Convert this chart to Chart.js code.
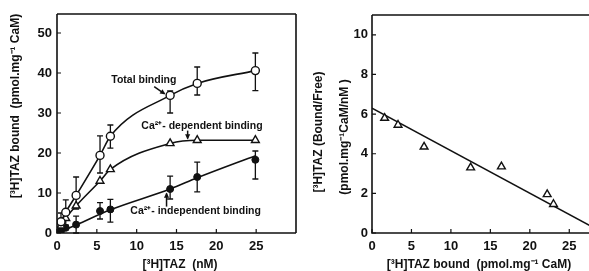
<!DOCTYPE html>
<html>
<head>
<meta charset="utf-8">
<script src="https://cdn.jsdelivr.net/npm/chart.js@4.4.0/dist/chart.umd.min.js"></script>
<style>
  body { margin: 0; background: #fff; }
  #wrap { position: relative; width: 589px; height: 271px; }
  .pane { position: absolute; top: 0; height: 271px; }
</style>
</head>
<body>
<div id="wrap">
  <div class="pane" style="left:0;width:300px"><canvas id="left"></canvas></div>
  <div class="pane" style="left:300px;width:289px"><canvas id="right"></canvas></div>
</div>
<script>
// left panel: binding vs free [3H]TAZ
const tazNM = [0.5, 1.1, 2.4, 5.4, 6.7, 14.2, 17.6, 24.9];
const totalBound = [2.8, 5.2, 9.4, 19.4, 24.2, 34.4, 37.4, 40.6];
const totalLow = [1, 2, 6, 15, 21.2, 30, 34.5, 35.6];
const totalHigh = [5, 8.3, 14, 24.3, 27, 35.5, 41.5, 45];
const caDepBound = [1.8, 3.7, 6.8, 13, 15.9, 22.4, 23.2, 23.2];
const caIndepBound = [0.5, 1.3, 2.1, 5.5, 5.9, 11, 14, 18.3];
const caIndepLow = [null, null, 0, 3.5, 2.7, 8.5, 10.3, 13.5];
const caIndepHigh = [null, null, 4.2, 7.6, 8.4, 14.2, 17.7, 20.5];
// fitted curve for Ca-independent binding
const indepCurveX = [0, 2.4, 6.7, 14.2, 17.6, 25];
const indepCurveY = [0, 2, 5.8, 11, 13.8, 19.4];

// right panel: Scatchard plot
const scatBound = [1.6, 3.3, 6.6, 12.5, 16.4, 22.2, 23.0];
const scatRatio = [5.8, 5.45, 4.35, 3.3, 3.35, 1.95, 1.45];
const fitX = [0, 28];
const fitY = [6.3, 0.29];

const leftTicksX = [0, 5, 10, 15, 20, 25];
const leftTicksY = [0, 10, 20, 30, 40, 50];
const rightTicksX = [0, 5, 10, 15, 20, 25];
const rightTicksY = [0, 2, 4, 6, 8, 10];

const ink = '#111';
const fontFam = '"Liberation Sans", Arial, sans-serif';

const pts = (xs, ys) => xs.map((x, i) => ({ x: x, y: ys[i] }));
const withOrigin = ys => [0].concat(ys);

const overlay = {
  id: 'overlay',
  beforeDatasetsDraw(chart, args, opts) {
    const ctx = chart.ctx, sx = chart.scales.x, sy = chart.scales.y;
    ctx.save();
    ctx.strokeStyle = ink;
    ctx.lineWidth = 1.3;
    (opts.errors || []).forEach(e => {
      e.x.forEach((xv, i) => {
        if (e.lo[i] == null) return;
        const x = sx.getPixelForValue(xv);
        const y1 = sy.getPixelForValue(e.lo[i]);
        const y2 = sy.getPixelForValue(e.hi[i]);
        ctx.beginPath();
        ctx.moveTo(x, y1); ctx.lineTo(x, y2);
        ctx.moveTo(x - 3, y1); ctx.lineTo(x + 3, y1);
        ctx.moveTo(x - 3, y2); ctx.lineTo(x + 3, y2);
        ctx.stroke();
      });
    });
    ctx.restore();
  },
  afterDraw(chart, args, opts) {
    const ctx = chart.ctx, a = chart.chartArea;
    const sx = chart.scales.x, sy = chart.scales.y;
    ctx.save();
    ctx.strokeStyle = ink;
    ctx.lineWidth = 1.6;
    ctx.beginPath();
    ctx.moveTo(a.left, a.top); ctx.lineTo(a.left, a.bottom); ctx.lineTo(a.right, a.bottom);
    if (opts.fullBox) {
      ctx.moveTo(a.right, a.bottom); ctx.lineTo(a.right, a.top);
    }
    ctx.moveTo(a.left, a.top); ctx.lineTo(a.right, a.top);
    ctx.stroke();

    // inward tick marks
    ctx.lineWidth = 1.2;
    ctx.beginPath();
    opts.ticksX.forEach(v => {
      const x = sx.getPixelForValue(v);
      ctx.moveTo(x, a.bottom); ctx.lineTo(x, a.bottom - 4);
    });
    opts.ticksY.forEach(v => {
      const y = sy.getPixelForValue(v);
      ctx.moveTo(a.left, y); ctx.lineTo(a.left + 4, y);
    });
    ctx.stroke();

    // axis titles
    ctx.fillStyle = ink;
    ctx.textAlign = 'center';
    ctx.textBaseline = 'middle';
    ctx.font = 'bold 12px ' + fontFam;
    ctx.fillText(opts.xTitle.text, opts.xTitle.x, opts.xTitle.y);
    opts.yTitle.forEach(t => {
      ctx.save();
      ctx.translate(t.x, t.y);
      ctx.rotate(-Math.PI / 2);
      ctx.fillText(t.text, 0, 0);
      ctx.restore();
    });

    // annotations
    ctx.font = 'bold 10.5px ' + fontFam;
    (opts.notes || []).forEach(n => {
      ctx.fillText(n.text, sx.getPixelForValue(n.x), sy.getPixelForValue(n.y));
    });
    ctx.lineWidth = 1.5;
    (opts.arrows || []).forEach(r => {
      const x1 = sx.getPixelForValue(r.from[0]), y1 = sy.getPixelForValue(r.from[1]);
      const x2 = sx.getPixelForValue(r.to[0]), y2 = sy.getPixelForValue(r.to[1]);
      const ang = Math.atan2(y2 - y1, x2 - x1);
      ctx.beginPath();
      ctx.moveTo(x1, y1); ctx.lineTo(x2, y2);
      ctx.stroke();
      ctx.beginPath();
      ctx.moveTo(x2 + Math.cos(ang) * 1, y2 + Math.sin(ang) * 1);
      ctx.lineTo(x2 - Math.cos(ang - 0.55) * 5, y2 - Math.sin(ang - 0.55) * 5);
      ctx.lineTo(x2 - Math.cos(ang + 0.55) * 5, y2 - Math.sin(ang + 0.55) * 5);
      ctx.closePath();
      ctx.fill();
    });
    ctx.restore();
  }
};

const tickFont = { family: fontFam, size: 13, weight: 'bold' };

function axis(max, step, padding, labelMax) {
  return {
    type: 'linear', min: 0, max: max,
    grid: { display: false, drawTicks: false },
    border: { display: false },
    ticks: {
      stepSize: step, includeBounds: false, color: ink, font: tickFont, padding: padding,
      callback: v => (v <= labelMax ? v : '')
    }
  };
}

const noPad = s => { s.paddingLeft = 0; s.paddingRight = 0; s.paddingTop = 0; s.paddingBottom = 0; };

const leftX = axis(30, 5, 6, 25);
leftX.afterFit = s => { s.height = 38; noPad(s); };
const leftY = axis(54.75, 10, 5, 50);
leftY.afterFit = s => { s.width = 57; noPad(s); };

new Chart(document.getElementById('left'), {
  type: 'scatter',
  data: {
    datasets: [
      { data: pts(tazNM, totalBound), pointStyle: 'circle', pointRadius: 4, backgroundColor: '#fff', borderColor: ink, borderWidth: 1.4 },
      { data: pts(tazNM, caDepBound), pointStyle: 'triangle', pointRadius: 4.5, backgroundColor: '#fff', borderColor: ink, borderWidth: 1.4 },
      { data: pts(tazNM, caIndepBound), pointStyle: 'circle', pointRadius: 3.5, backgroundColor: ink, borderColor: ink, borderWidth: 1 },
      { data: pts(withOrigin(tazNM), withOrigin(totalBound)), showLine: true, pointRadius: 0, borderColor: ink, borderWidth: 1.6, cubicInterpolationMode: 'monotone' },
      { data: pts(withOrigin(tazNM), withOrigin(caDepBound)), showLine: true, pointRadius: 0, borderColor: ink, borderWidth: 1.6, cubicInterpolationMode: 'monotone' },
      { data: pts(indepCurveX, indepCurveY), showLine: true, pointRadius: 0, borderColor: ink, borderWidth: 1.6, cubicInterpolationMode: 'monotone' }
    ]
  },
  options: {
    responsive: true, maintainAspectRatio: false, animation: false,
    layout: { autoPadding: false, padding: { left: 0, right: 4, top: 14, bottom: 0 } },
    scales: { x: leftX, y: leftY },
    plugins: {
      legend: { display: false }, tooltip: { enabled: false },
      overlay: {
        fullBox: true,
        ticksX: leftTicksX, ticksY: leftTicksY,
        errors: [
          { x: tazNM, lo: totalLow, hi: totalHigh },
          { x: tazNM, lo: caIndepLow, hi: caIndepHigh }
        ],
        xTitle: { text: '[³H]TAZ  (nM)', x: 180, y: 265 },
        yTitle: [{ text: '[³H]TAZ bound  (pmol.mg⁻¹ CaM)', x: 16, y: 106 }],
        notes: [
          { text: 'Total binding', x: 10.9, y: 38.3 },
          { text: 'Ca²⁺- dependent binding', x: 18.2, y: 26.8 },
          { text: 'Ca²⁺- independent binding', x: 17.4, y: 5.5 }
        ],
        arrows: [
          { from: [12.2, 36.6], to: [13.5, 34.8] },
          { from: [16.4, 25.6], to: [16.4, 23.6] },
          { from: [13.75, 6.6], to: [13.75, 9.9] }
        ]
      }
    }
  },
  plugins: [overlay]
});

const rightX = axis(27.5, 5, 6, 25);
rightX.afterFit = s => { s.height = 38; noPad(s); };
const rightY = axis(11, 2, 4, 10);
rightY.afterFit = s => { s.width = 72; noPad(s); };

new Chart(document.getElementById('right'), {
  type: 'scatter',
  data: {
    datasets: [
      { data: pts(scatBound, scatRatio), pointStyle: 'triangle', pointRadius: 4.5, backgroundColor: '#fff', borderColor: ink, borderWidth: 1.4 },
      { data: pts(fitX, fitY), showLine: true, pointRadius: 0, borderColor: ink, borderWidth: 1.6 }
    ]
  },
  options: {
    responsive: true, maintainAspectRatio: false, animation: false,
    layout: { autoPadding: false, padding: { left: 0, right: 0, top: 15, bottom: 0 } },
    scales: { x: rightX, y: rightY },
    plugins: {
      legend: { display: false }, tooltip: { enabled: false },
      overlay: {
        fullBox: false,
        ticksX: rightTicksX, ticksY: rightTicksY,
        xTitle: { text: '[³H]TAZ bound  (pmol.mg⁻¹ CaM)', x: 179, y: 265 },
        yTitle: [
          { text: '[³H]TAZ (Bound/Free)', x: 19, y: 132 },
          { text: '(pmol.mg⁻¹CaM/nM )', x: 45, y: 137 }
        ]
      }
    }
  },
  plugins: [overlay]
});
</script>
</body>
</html>
